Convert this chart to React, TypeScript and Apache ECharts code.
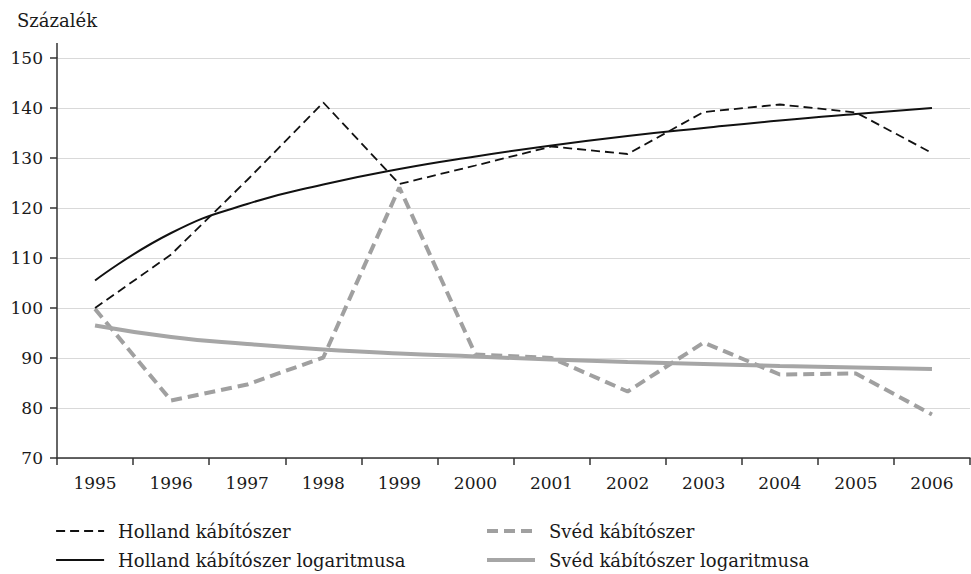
import React, { useEffect, useRef } from "react";
import * as echarts from "echarts";

const years = ["1995", "1996", "1997", "1998", "1999", "2000", "2001", "2002", "2003", "2004", "2005", "2006"];
const hollandValues = [100, 110.7, 125.6, 141.1, 124.8, 128.5, 132.3, 130.8, 139.2, 140.7, 139.1, 131.0];
const hollandLogValues = [105.5, 115.0, 120.8, 124.7, 127.8, 130.3, 132.5, 134.4, 136.0, 137.5, 138.8, 140.0];
const swedishValues = [99.8, 81.5, 84.7, 90.1, 124.1, 90.7, 90.0, 83.3, 93.1, 86.7, 86.9, 78.7];
const swedishLogValues = [96.5, 94.2, 92.8, 91.7, 90.9, 90.3, 89.7, 89.2, 88.8, 88.4, 88.1, 87.8];

const names = {
  holland: "Holland kábítószer",
  hollandLog: "Holland kábítószer logaritmusa",
  swedish: "Svéd kábítószer",
  swedishLog: "Svéd kábítószer logaritmusa",
};

const FONT = "DejaVu Serif";

export default function App() {
  const ref = useRef<HTMLDivElement>(null);
  useEffect(() => {
    if (!ref.current) return;
    const chart = echarts.init(ref.current, null, { renderer: "svg" });
    const legendText = {
      fontFamily: FONT,
      fontSize: 18,
      color: "#1a1a1a",
      padding: [0, 0, 0, 9],
    };
    const legendBase = {
      orient: "vertical",
      top: 522,
      height: 70,
      padding: 0,
      itemWidth: 48,
      itemHeight: 10,
      itemGap: 11,
      itemStyle: { opacity: 0 },
      textStyle: legendText,
    };
    chart.setOption({
      animation: false,
      grid: { left: 57, right: 1, top: 58, bottom: 116, containLabel: false },
      graphic: [
        {
          type: "text",
          left: 17,
          top: 11,
          style: { text: "Százalék", font: `18px "${FONT}"`, fill: "#1a1a1a" },
        },
        {
          type: "line",
          shape: { x1: 57, y1: 43, x2: 57, y2: 58 },
          style: { stroke: "#333", lineWidth: 1.5 },
        },
      ],
      legend: [
        {
          ...legendBase,
          left: 55,
          data: [
            { name: names.holland, lineStyle: { width: 2, type: [9, 5], color: "#111" } },
            { name: names.hollandLog, lineStyle: { width: 2.2, color: "#111" } },
          ],
        },
        {
          ...legendBase,
          left: 485,
          data: [
            { name: names.swedish, lineStyle: { width: 4, type: [11, 6], color: "#a0a0a0" } },
            { name: names.swedishLog, lineStyle: { width: 4, color: "#a6a6a6" } },
          ],
        },
      ],
      xAxis: {
        type: "category",
        data: years,
        boundaryGap: true,
        axisLine: { lineStyle: { color: "#333", width: 1.5 } },
        axisTick: { show: true, length: 7, alignWithLabel: false, lineStyle: { color: "#333", width: 1.5 } },
        axisLabel: { fontFamily: FONT, fontSize: 17, color: "#1a1a1a", margin: 16 },
        splitLine: { show: false },
      },
      yAxis: {
        type: "value",
        min: 70,
        max: 150,
        interval: 10,
        axisLine: { show: true, lineStyle: { color: "#333", width: 1.5 } },
        axisTick: { show: true, length: 7, lineStyle: { color: "#333", width: 1.5 } },
        axisLabel: { fontFamily: FONT, fontSize: 17, color: "#1a1a1a", margin: 14 },
        splitLine: { show: true, lineStyle: { color: "#d9d9d9", width: 1.2 } },
      },
      series: [
        {
          name: names.holland,
          type: "line",
          data: hollandValues,
          symbol: "none",
          lineStyle: { color: "#111", width: 1.8, type: [9, 5] },
          itemStyle: { color: "#111" },
          z: 4,
        },
        {
          name: names.hollandLog,
          type: "line",
          data: hollandLogValues,
          symbol: "none",
          smooth: true,
          lineStyle: { color: "#111", width: 2 },
          itemStyle: { color: "#111" },
          z: 4,
        },
        {
          name: names.swedish,
          type: "line",
          data: swedishValues,
          symbol: "none",
          lineStyle: { color: "#a0a0a0", width: 4, type: [11, 6] },
          itemStyle: { color: "#a0a0a0" },
          z: 3,
        },
        {
          name: names.swedishLog,
          type: "line",
          data: swedishLogValues,
          symbol: "none",
          smooth: true,
          lineStyle: { color: "#a6a6a6", width: 4 },
          itemStyle: { color: "#a6a6a6" },
          z: 3,
        },
      ],
    });
    return () => chart.dispose();
  }, []);
  return <div ref={ref} style={{ width: 971, height: 574, position: "absolute", left: 0, top: 0 }} />;
}
